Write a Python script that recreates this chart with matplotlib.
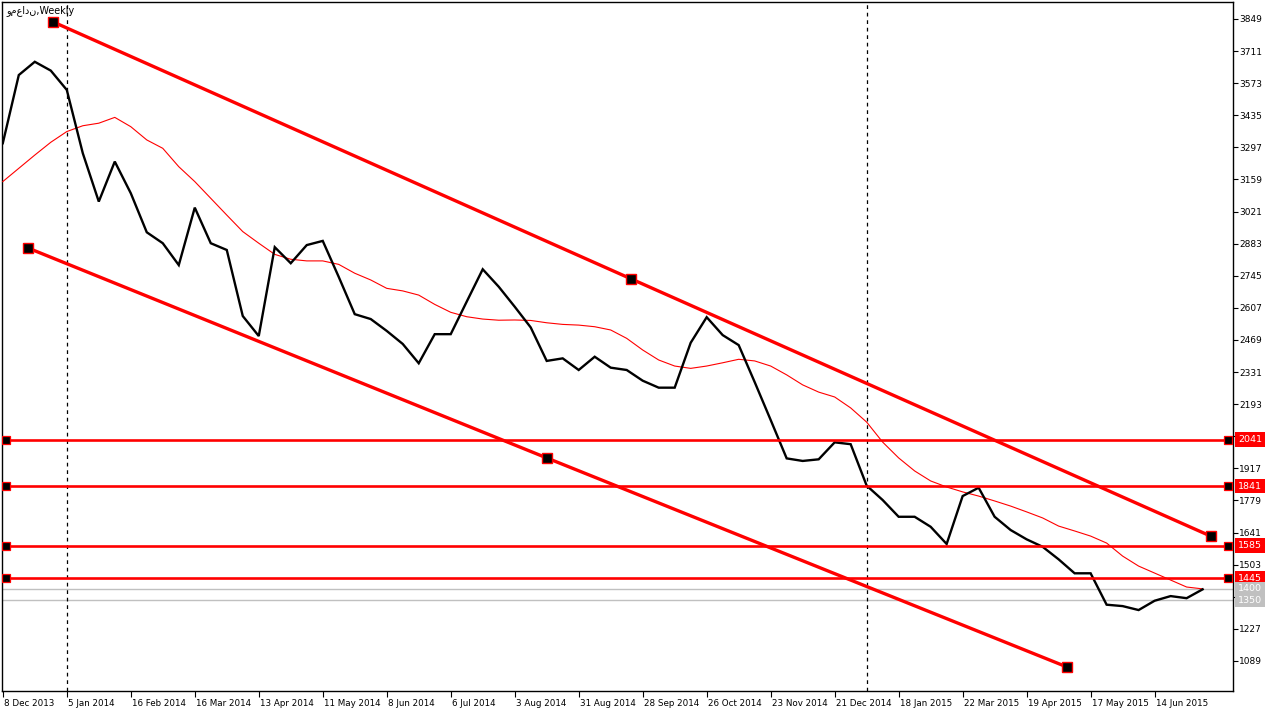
import matplotlib
matplotlib.use("Agg")
import matplotlib.pyplot as plt
import matplotlib.transforms as mtransforms

# ---------------- data ----------------
close = [3315, 3608, 3665, 3627, 3544, 3272, 3064, 3236, 3100, 2932,
         2885, 2791, 3038, 2885, 2856, 2572, 2486, 2868, 2799, 2877,
         2895, 2740, 2580, 2559, 2508, 2452, 2369, 2494, 2494, 2634,
         2773, 2698, 2612, 2523, 2379, 2390, 2340, 2397, 2350, 2340,
         2294, 2264, 2264, 2457, 2567, 2490, 2447, 2288, 2125, 1960,
         1949, 1956, 2029, 2021, 1843, 1781, 1709, 1709, 1666, 1592,
         1798, 1834, 1709, 1652, 1612, 1580, 1526, 1466, 1466, 1331,
         1325, 1308, 1348, 1368, 1359, 1397]

ma = [3150, 3207, 3264, 3319, 3365, 3390, 3401, 3426, 3386, 3329,
      3293, 3214, 3150, 3078, 3006, 2935, 2885, 2837, 2816, 2809,
      2809, 2794, 2756, 2727, 2691, 2680, 2662, 2622, 2588, 2569,
      2559, 2554, 2555, 2553, 2543, 2536, 2533, 2526, 2512, 2476,
      2426, 2383, 2357, 2347, 2357, 2371, 2386, 2379, 2357, 2319,
      2276, 2245, 2224, 2177, 2116, 2030, 1962, 1906, 1863, 1837,
      1816, 1798, 1777, 1755, 1730, 1704, 1669, 1648, 1626, 1596,
      1540, 1497, 1467, 1437, 1407, 1399]

date_labels = ["8 Dec 2013", "5 Jan 2014", "16 Feb 2014", "16 Mar 2014",
               "13 Apr 2014", "11 May 2014", "8 Jun 2014", "6 Jul 2014",
               "3 Aug 2014", "31 Aug 2014", "28 Sep 2014", "26 Oct 2014",
               "23 Nov 2014", "21 Dec 2014", "18 Jan 2015", "22 Mar 2015",
               "19 Apr 2015", "17 May 2015", "14 Jun 2015"]
date_label_bars = [0, 4, 8, 12, 16, 20, 24, 28, 32, 36, 40, 44, 48, 52,
                   56, 60, 64, 68, 72]

separator_bars = [4, 54]

upper_tl_x = [3.16, 39.3, 75.5]
upper_tl_y = [3836, 2731, 1626]
lower_tl_x = [1.59, 34.0, 66.53]
lower_tl_y = [2864, 1962, 1063]

red_levels = [2041, 1841, 1585, 1445]
gray_levels = [1400, 1350]

price_ticks = [3849 - 138 * k for k in range(21)]
hidden_tick_labels = [2055, 1365]

title_text = "ومعادن,Weekly"

# ---------------- figure ----------------
W, H = 1276, 714
fig = plt.figure(figsize=(W / 100, H / 100), dpi=100)
fig.patch.set_facecolor("white")
ax = fig.add_axes([2 / W, 23 / H, (1233 - 2) / W, (691 - 2) / H])
ax.set_facecolor("white")

x = list(range(len(close)))
ax.set_xlim(-0.05, 76.9)
ax.set_ylim(960, 3922)

FONT = "DejaVu Sans"
FS = 6.3

# horizontal gray levels
for lv in gray_levels:
    ax.axhline(lv, color="#c0c0c0", lw=1.0, zorder=1)

# separators
for b in separator_bars:
    ax.axvline(b, color="black", lw=0.9, ls=(0, (3, 3)), zorder=1)

# moving average
ax.plot(x, ma, color="#ff0000", lw=0.8, zorder=3)
# close line
ax.plot(x, close, color="black", lw=1.7, zorder=4, solid_joinstyle="miter")

# trend lines
ax.plot(upper_tl_x, upper_tl_y, color="#ff0000", lw=2.4, zorder=5,
        solid_capstyle="butt")
ax.plot(lower_tl_x, lower_tl_y, color="#ff0000", lw=2.4, zorder=5,
        solid_capstyle="butt")
ax.plot(upper_tl_x, upper_tl_y, ls="none", marker="s", ms=6.5,
        mfc="black", mec="#ff0000", mew=1.0, zorder=6)
ax.plot(lower_tl_x, lower_tl_y, ls="none", marker="s", ms=6.5,
        mfc="black", mec="#ff0000", mew=1.0, zorder=6)

# red horizontal levels
for lv in red_levels:
    ax.axhline(lv, color="#ff0000", lw=1.9, zorder=5)
    ax.plot([0.22, 76.6], [lv, lv], ls="none", marker="s", ms=5.2,
            mfc="black", mec="#ff0000", mew=0.9, zorder=6)

# axis styling
for s in ["left", "right", "top", "bottom"]:
    ax.spines[s].set_color("black")
    ax.spines[s].set_linewidth(1.0)

ax.yaxis.tick_right()
ax.set_yticks(price_ticks)
ax.set_yticklabels(["" if v in hidden_tick_labels else str(v)
                    for v in price_ticks])
ax.tick_params(axis="y", direction="out", length=3.5, width=0.8, pad=1,
               labelsize=FS + 0.2, colors="black")
ax.set_xticks(date_label_bars)
ax.set_xticklabels(date_labels)
ax.tick_params(axis="x", direction="out", length=4, width=0.8, pad=1.5,
               labelsize=FS)
for lab in ax.get_xticklabels():
    lab.set_ha("left")
    lab.set_family(FONT)
    lab.set_transform(lab.get_transform() +
                      mtransforms.ScaledTranslation(1 / 100, 0, fig.dpi_scale_trans))
for lab in ax.get_yticklabels():
    lab.set_family(FONT)

# price labels on the right axis
trans = mtransforms.blended_transform_factory(ax.transAxes, ax.transData)
x_lab = 1 + 5 / (1233 - 2)
for lv in red_levels:
    ax.text(x_lab, lv, str(lv), transform=trans, ha="left", va="center",
            fontsize=FS + 0.5, color="white", family=FONT, zorder=10,
            bbox=dict(boxstyle="square,pad=0.28", fc="#ff0000", ec="none"),
            clip_on=False)
for lv in gray_levels:
    ax.text(x_lab, lv, str(lv), transform=trans, ha="left", va="center",
            fontsize=FS + 0.5, color="white", family=FONT, zorder=10,
            bbox=dict(boxstyle="square,pad=0.28", fc="#c0c0c0", ec="none"),
            clip_on=False)

# title
ax.text(4 / (1233 - 2), 1 - 9 / 689, title_text, transform=ax.transAxes,
        ha="left", va="center", fontsize=FS + 0.6, color="black",
        family=FONT, zorder=10)

fig.savefig("out.png", dpi=100, facecolor="white")
